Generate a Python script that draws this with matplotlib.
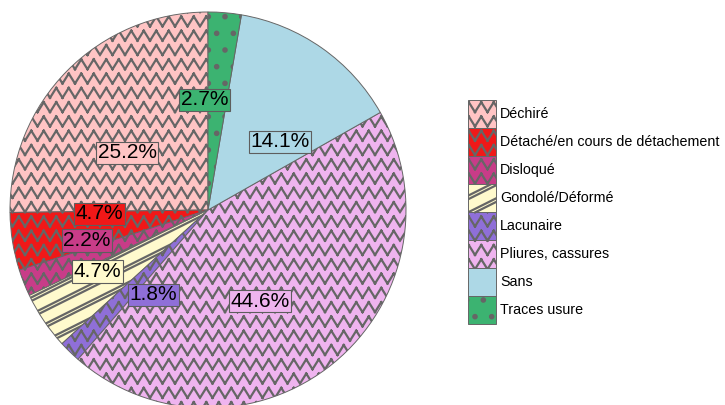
"""Pie of damage types with zigzag hatching, legend on the right."""
import matplotlib; matplotlib.use("Agg")
import matplotlib.pyplot as plt
import matplotlib.hatch as mhatch
from matplotlib.path import Path
import numpy as np, warnings

warnings.filterwarnings("ignore")

names = ["Déchiré", "Détaché/en cours de détachement", "Disloqué", "Gondolé/Déformé",
         "Lacunaire", "Pliures, cassures", "Sans", "Traces usure"]
shares = [25.2, 4.7, 2.2, 4.7, 1.8, 44.6, 14.1, 2.7]

colors = ["#ffc4c4", "#f01818", "#c83c88", "#fffacd", "#8f6fd8", "#efb4ef", "#add8e6", "#3cb371"]
hatches = ["z", "z", "z", "s", "z", "z", "", "."]
# label placement (angle deg, radius) -- nudged apart like the reference
label_pos = [(144.7, 0.50), (182.1, 0.55), (194.2, 0.63), (209.0, 0.64),
             (237.3, 0.51), (299.7, 0.53), (43.4, 0.50), (91.8, 0.556)]


class ZigZag(mhatch.HatchPatternBase):
    """'z': rows of zigzag lines, drawn as separate segments (agg fills hatch paths)"""
    def __init__(self, hatch, density):
        self.rows = 7 * hatch.count("z")
        self.teeth = 8
        self.num_vertices = self.rows * 2 * (2 * self.teeth)

    def set_vertices_and_codes(self, vertices, codes):
        n = 2 * self.teeth + 1
        xs = np.linspace(0, 1, n)
        amp = 0.1
        i = 0
        for k in range(self.rows):
            y0 = (k + 0.5) / self.rows - amp / 2
            ys = y0 + amp * (np.arange(n) % 2)
            for j in range(n - 1):
                vertices[i] = (xs[j], ys[j]); codes[i] = Path.MOVETO
                vertices[i + 1] = (xs[j + 1], ys[j + 1]); codes[i + 1] = Path.LINETO
                i += 2


class Shallow(mhatch.HatchPatternBase):
    """'s': shallow double diagonal lines, slope 1/2"""
    def __init__(self, hatch, density):
        self.n = 6 * hatch.count("s")
        self.cs = [k / self.n + d for k in range(-self.n // 2, self.n + 1) for d in (0, 0.036)] if self.n else []
        self.num_vertices = 2 * len(self.cs)

    def set_vertices_and_codes(self, vertices, codes):
        for i, c in enumerate(self.cs):
            vertices[2 * i] = (0, c)
            vertices[2 * i + 1] = (1, c + 0.5)
            codes[2 * i] = Path.MOVETO
            codes[2 * i + 1] = Path.LINETO


mhatch._hatch_types.extend([ZigZag, Shallow])
plt.rcParams["hatch.linewidth"] = 1.6

W, H = 725, 405
cx, cy, R = 208, 210, 198
fig = plt.figure(figsize=(W / 100, H / 100), dpi=100)
ax = fig.add_axes([(cx - R) / W, (H - cy - R) / H, 2 * R / W, 2 * R / H])

wedges, _ = ax.pie(shares, colors=colors, startangle=90, counterclock=True,
                   wedgeprops=dict(edgecolor="#666666", linewidth=0.7))
for w, h in zip(wedges, hatches):
    w.set_hatch(h)
ax.set_xlim(-1, 1); ax.set_ylim(-1, 1); ax.set_aspect("equal"); ax.axis("off")

for v, c, (a, r) in zip(shares, colors, label_pos):
    t = np.deg2rad(a)
    ax.text(r * np.cos(t), r * np.sin(t), f"{v:.1f}%", ha="center", va="center",
            fontsize=15, family="Liberation Sans", color="black",
            bbox=dict(boxstyle="square,pad=0.08", fc=c, ec="#5e5e5e", lw=0.8))

fig.legend(wedges, names, loc="upper left", bbox_to_anchor=(468 / W, 1 - 100 / H),
           frameon=False, handlelength=1.95, handleheight=2.63, labelspacing=0,
           handletextpad=0.3, borderpad=0, borderaxespad=0,
           prop=dict(family="Liberation Sans", size=10.3))

fig.savefig("out.png", dpi=100, facecolor="white")
